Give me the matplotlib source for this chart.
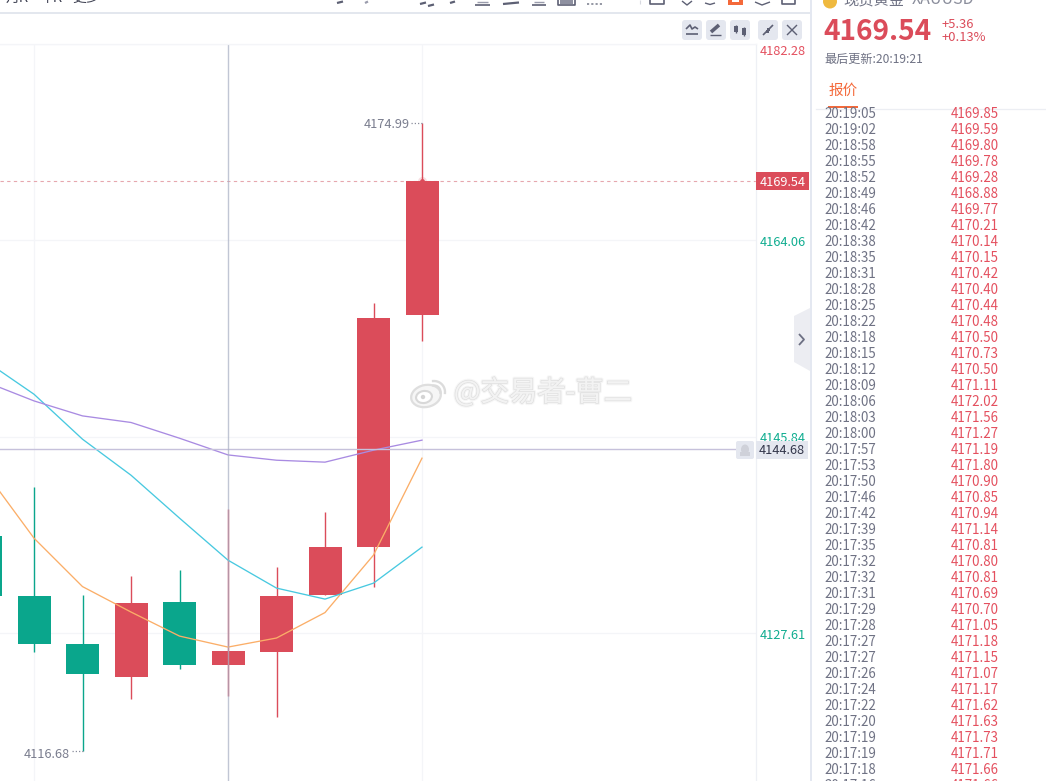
import numpy as np
import matplotlib
matplotlib.use("Agg")
import matplotlib.pyplot as plt
from matplotlib.patches import Rectangle, FancyBboxPatch, Polygon, Ellipse, Circle
import matplotlib.patheffects as pe

plt.rcParams['font.family'] = ['Noto Sans CJK SC', 'DejaVu Sans']

# Session candles, oldest first
opens  = [4136.64, 4131.08, 4126.63, 4123.57, 4130.52, 4124.68, 4125.89, 4131.17, 4135.62, 4157.12]
closes = [4131.08, 4126.63, 4123.85, 4130.43, 4124.68, 4125.98, 4131.08, 4135.62, 4156.84, 4169.54]
highs  = [4136.64, 4141.18, 4131.17, 4132.93, 4133.49, 4139.14, 4133.77, 4138.86, 4158.23, 4174.99]
lows   = [4131.08, 4125.89, 4116.68, 4121.53, 4124.31, 4121.81, 4119.86, 4131.17, 4131.91, 4154.71]

# Moving averages
ma_orange = [4142.57, 4136.45, 4131.96, 4129.60, 4127.37, 4126.35, 4127.19, 4129.55, 4134.88, 4143.87]
ma_cyan   = [4152.89, 4149.80, 4145.63, 4142.29, 4138.31, 4134.41, 4131.82, 4130.80, 4132.28, 4135.62]
ma_purple = [4150.95, 4149.18, 4147.79, 4147.18, 4145.72, 4144.17, 4143.68, 4143.50, 4144.61, 4145.54]

axis_prices = [4182.28, 4164.06, 4145.84, 4127.61]
last_price = 4169.54
cross_price = 4144.68
cross_index = 5
high_label = 4174.99
low_label = 4116.68

# Tick list on the right
tick_times = ["20:19:05", "20:19:02", "20:18:58", "20:18:55", "20:18:52", "20:18:49", "20:18:46",
              "20:18:42", "20:18:38", "20:18:35", "20:18:31", "20:18:28", "20:18:25", "20:18:22",
              "20:18:18", "20:18:15", "20:18:12", "20:18:09", "20:18:06", "20:18:03", "20:18:00",
              "20:17:57", "20:17:53", "20:17:50", "20:17:46", "20:17:42", "20:17:39", "20:17:35",
              "20:17:32", "20:17:32", "20:17:31", "20:17:29", "20:17:28", "20:17:27", "20:17:27",
              "20:17:26", "20:17:24", "20:17:22", "20:17:20", "20:17:19", "20:17:19", "20:17:18",
              "20:17:16"]
tick_prices = ["4169.85", "4169.59", "4169.80", "4169.78", "4169.28", "4168.88", "4169.77",
               "4170.21", "4170.14", "4170.15", "4170.42", "4170.40", "4170.44", "4170.48",
               "4170.50", "4170.73", "4170.50", "4171.11", "4172.02", "4171.56", "4171.27",
               "4171.19", "4171.80", "4170.90", "4170.85", "4170.94", "4171.14", "4170.81",
               "4170.80", "4170.81", "4170.69", "4170.70", "4171.05", "4171.18", "4171.15",
               "4171.07", "4171.17", "4171.62", "4171.63", "4171.73", "4171.71", "4171.66",
               "4171.66"]

RED = '#db4c5a'
GREEN = '#0aa68c'
GREY_TXT = '#6f7284'
GRID = '#f4f5f8'
BTN = '#e4e7ef'
ICON = '#5d6074'
ORANGE_UI = '#f4693a'

W, H = 1046, 781
fig = plt.figure(figsize=(W / 100, H / 100), dpi=100, facecolor='white')

# Chart area, px 0-756 across and 44-781 down
ax = fig.add_axes([0, 0, 756 / W, (H - 44) / H], zorder=1)
ax.patch.set_alpha(0)
for s in ax.spines.values():
    s.set_visible(False)
ax.set_xlim(14.5 / 48.5, (756 + 14.5) / 48.5)
ax.set_ylim(4113.93, 4182.28)
ax.set_xticks([])
ax.set_yticks([])

idx = np.arange(len(opens))
for p in axis_prices:
    ax.axhline(p, color=GRID, lw=0.9, zorder=1)
for i in (1, 9):
    ax.axvline(i, color=GRID, lw=0.9, zorder=1)

is_up = np.array(closes) >= np.array(opens)
colors = [RED if u else GREEN for u in is_up]
ax.vlines(idx, lows, highs, colors=colors, lw=1.0, zorder=2)
body_low = np.minimum(opens, closes)
body_h = np.abs(np.array(closes) - np.array(opens))
ax.bar(idx, body_h, bottom=body_low, width=33 / 48.5, color=colors, lw=0, zorder=3)

ax.plot(idx, ma_orange, color='#fbae68', lw=0.95, zorder=4)
ax.plot(idx, ma_cyan, color='#48c9e0', lw=0.95, zorder=4)
ax.plot(idx, ma_purple, color='#a98be2', lw=0.95, zorder=4)

# Last price line, its marker, and the crosshair
ax.axhline(last_price, color='#e6a7ae', lw=0.8, ls=(0, (3, 3)), zorder=2)
ax.scatter([idx[-1]], [last_price], s=42, color=RED, alpha=0.18, lw=0, zorder=4)
ax.scatter([idx[-1]], [last_price + 0.05], s=12, color=RED, lw=0, zorder=4)
ax.axhline(cross_price, xmax=736 / 756, color='#c6c1db', lw=1.0, zorder=5)
ax.axvline(cross_index, color='#a9b0c4', lw=1.0, alpha=0.72, zorder=5)

# High and low callouts with dotted leaders
hi_i = int(np.argmax(highs))
lo_i = int(np.argmin(lows))
ax.plot([hi_i - 0.22, hi_i], [high_label, high_label], color='#8a8d9c', lw=0.9, ls=(0, (1, 1.6)), zorder=4)
ax.plot([lo_i - 0.22, lo_i], [low_label, low_label], color='#8a8d9c', lw=0.9, ls=(0, (1, 1.6)), zorder=4)
ax.annotate(f"{high_label:.2f}", (hi_i, high_label), xytext=(-12.5, -1.5), textcoords='offset pixels',
            ha='right', va='center', fontsize=9.2, color='#7a7d8e')
ax.annotate(f"{low_label:.2f}", (lo_i, low_label), xytext=(-13, -3), textcoords='offset pixels',
            ha='right', va='center', fontsize=9.2, color='#7a7d8e')

# Price scale labels
for p in axis_prices:
    col = '#e4505f' if p > last_price else '#10ad90'
    dy = -7.5 if p == axis_prices[0] else -2
    ax.annotate(f"{p:.2f}", (782.5 / 756, p), xycoords=ax.get_yaxis_transform(), xytext=(0, dy),
                textcoords='offset pixels', ha='center', va='center', fontsize=9.2, color=col,
                annotation_clip=False)

# Page furniture, in pixel coordinates
ui = fig.add_axes([0, 0, 1, 1], zorder=2)
ui.patch.set_alpha(0)
ui.set_xlim(0, W)
ui.set_ylim(H, 0)
ui.axis('off')


def box(x0, y0, x1, y1, color, z=2, **kw):
    ui.add_patch(Rectangle((x0, y0), x1 - x0, y1 - y0, facecolor=color, edgecolor='none', zorder=z, **kw))


def rbox(x0, y0, x1, y1, color, r=3, z=2):
    ui.add_patch(FancyBboxPatch((x0 + r, y0 + r), x1 - x0 - 2 * r, y1 - y0 - 2 * r,
                                boxstyle=f"round,pad={r},rounding_size={r}",
                                facecolor=color, edgecolor='none', zorder=z))


def seg(xs, ys, color=ICON, lw=1.2, z=3):
    ui.plot(xs, ys, color=color, lw=lw, zorder=z, solid_capstyle='butt')


box(0, 12, 810, 14, '#e3e7ee')
box(810, 0, 812, H, '#e4e8f1')
ui.plot([756, 756], [44, H], color='#eef0f5', lw=0.9, zorder=1)
ui.plot([0, 756], [44, 44], color=GRID, lw=0.9, zorder=1)

# Clipped timeframe tabs along the top edge
for label, x in (("月K", 17), ("年K", 51), ("更多", 86)):
    ui.text(x, -2, label, ha='center', va='center', fontsize=10, color='#3c3f50')

# Tops of the drawing toolbar icons, cut by the page edge
for x0, x1, y1, c in ((337, 343, 3, ICON), (365, 368, 3, '#9a9cac'), (420, 426, 4, ICON),
                      (428, 434, 6, ICON), (450, 455, 3, ICON), (503, 519, 4, ICON)):
    seg([x0, x1], [y1, y1 - 1.5], color=c, lw=1.6)
for x0, x1 in ((475, 490), (532, 546)):
    seg([x0, x1], [5, 5])
    seg([x0 + 2, x1 - 2], [1.5, 1.5], color='#9a9cac', lw=1)
seg([558, 558, 575, 575], [0, 5, 5, 0], lw=1.2)
box(560, 0, 573, 3.5, '#8e90a0')
seg([587, 604], [3.5, 3.5], color='#777a8a', lw=1.1)
ui.lines[-1].set_linestyle((0, (1.4, 1.4)))
seg([640, 640], [0, 4], color='#d7d9e0', lw=0.8)
seg([650, 650, 664, 664], [0, 4, 4, 0])
seg([682, 687, 692], [1, 5, 1], lw=1.0)
seg([705, 710, 715], [3, 4.5, 3], lw=1.0)
box(728, 0, 743, 5, ORANGE_UI)
box(732, 0, 739, 1.5, 'white', z=3)
seg([755, 762, 770], [2, 5, 2], lw=1.0)
seg([782, 782, 795, 795], [0, 4, 4, 0])

# Chart buttons
for x0 in (682, 706, 730, 758, 782):
    rbox(x0, 20, x0 + 20, 40, BTN)
seg([686, 690, 692, 695, 698], [29, 25, 29, 27, 29])
seg([686, 698], [34, 34])
seg([711, 719], [32, 25], lw=2.6)
seg([710, 721], [35, 35], lw=1)
seg([736, 736], [25, 33], lw=1)
box(734, 26, 738, 32, ICON, z=3)
seg([744, 744], [27, 36], lw=1)
box(742, 28, 746, 35, ICON, z=3)
seg([763, 767.5], [35, 30.5])
box(766, 29.5, 769, 32.5, ICON, z=3)
seg([773, 768.5], [25, 29.5])
box(767, 27.5, 770, 30.5, ICON, z=3)
seg([787, 797], [25, 35], lw=1)
seg([787, 797], [35, 25], lw=1)

# Tags on the price scale
box(756, 172, 809, 190, RED, z=3)
ui.text(782.5, 182.5, f"{last_price:.2f}", ha='center', va='center', fontsize=9.2, color='white',
        fontweight='medium', zorder=4)
rbox(736, 441, 754, 459, BTN, r=2, z=3)
ui.add_patch(Ellipse((745, 449.5), 8, 10, facecolor='#cfd1d9', edgecolor='none', zorder=4))
box(740, 452, 750, 456, '#cfd1d9', z=4)
box(756, 441, 808, 459, BTN, z=3)
ui.text(782, 451, f"{cross_price:.2f}", ha='center', va='center', fontsize=9.2, color='#33364a', zorder=4)

# Collapse handle
ui.add_patch(Polygon([[810, 308], [794, 316], [794, 362], [810, 371]], closed=True,
                     facecolor='#ecedf2', edgecolor='none', zorder=2))
seg([799, 804, 799], [334, 339.5, 345], color='#6d7083', lw=1.3)

# Watermark
wm_fx = [pe.Stroke(linewidth=2.6, foreground='#f6f6f6'), pe.Stroke(linewidth=1.0, foreground='#e0e0e0'), pe.Normal()]
ui.text(543, 393, "@交易者-曹二", ha='center', va='center', fontsize=20.4, color='#f3f3f3',
        fontweight='light', path_effects=wm_fx, zorder=6)
ui.add_patch(Ellipse((426, 396), 30, 22, angle=-12, facecolor='#f6f6f6', edgecolor='#dedede', lw=1.6, zorder=6))
ui.add_patch(Ellipse((424, 397), 16, 12, angle=-10, facecolor='white', edgecolor='#d8d8d8', lw=1.5, zorder=6))
ui.add_patch(Circle((423, 397), 2.2, facecolor='#d4d4d4', edgecolor='none', zorder=6))
for r in (6.5, 11):
    t = np.radians(np.linspace(-95, 5, 20))
    ui.plot(434 + r * np.cos(t), 392 + r * np.sin(t), color='#dcdcdc', lw=1.7, zorder=6)

# Quote header
ui.add_patch(Circle((830, 1.5), 7, facecolor='#efb93f', edgecolor='none', zorder=3))
ui.text(843, 0, "现货黄金", ha='left', va='center', fontsize=11, color=GREY_TXT)
ui.text(912, 0, "XAUUSD", ha='left', va='center', fontsize=11.5, color='#8b8e9c')
ui.text(823, 32, f"{last_price:.2f}", ha='left', va='center', fontsize=20.2, color=RED, fontweight='bold')
ui.text(941, 24.5, "+5.36", ha='left', va='center', fontsize=9.3, color=RED)
ui.text(941, 37.5, "+0.13%", ha='left', va='center', fontsize=9.3, color=RED)
ui.text(824, 59, "最后更新:20:19:21", ha='left', va='center', fontsize=8.7, color=GREY_TXT)
ui.text(829, 91, "报价", ha='left', va='center', fontsize=10.5, color=ORANGE_UI)
box(828, 106, 858, 108, ORANGE_UI, z=3)
ui.plot([816, W], [108.5, 108.5], color='#eceef3', lw=0.9, zorder=2)

# Tick list, clipped under the tab strip
clip = Rectangle((812, 109), 234, H - 109, transform=ui.transData)
for row, (t, p) in enumerate(zip(tick_times, tick_prices)):
    y = 114 + 16 * row
    a = ui.text(824, y, t, ha='left', va='center', fontsize=9.6, color=GREY_TXT)
    b = ui.text(951, y, p, ha='left', va='center', fontsize=9.6, color='#e4505f')
    a.set_clip_path(clip)
    b.set_clip_path(clip)

fig.savefig('out.png', dpi=100, facecolor='white')
